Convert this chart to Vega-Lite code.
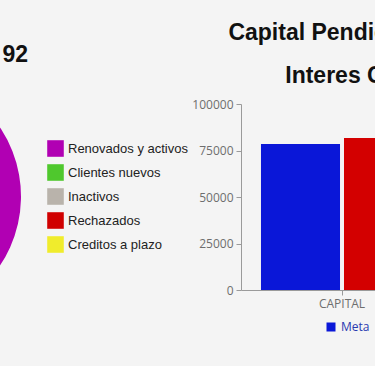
{
  "$schema": "https://vega.github.io/schema/vega-lite/v6.json",
  "background": "#f4f4f4",
  "padding": {"left": -227, "top": 22, "right": 0, "bottom": 40},
  "bounds": "flush",
  "spacing": 220,
  "resolve": {"scale": {"color": "independent"}, "legend": {"color": "independent"}},
  "config": {
    "view": {"stroke": null},
    "legend": {"layout": {"right": {"anchor": "middle"}, "bottom": {"anchor": "middle"}}}
  },
  "hconcat": [
    {
      "width": 248,
      "height": 185,
      "title": {"text": "Total de clientes: 92", "font": "Liberation Sans", "fontSize": 23, "fontWeight": "bold", "color": "#111111", "anchor": "end", "frame": "group", "offset": 6, "dx": 7},
      "data": {"values": [
        {"estado": "Renovados y activos", "clientes": 70},
        {"estado": "Clientes nuevos", "clientes": 12},
        {"estado": "Inactivos", "clientes": 6},
        {"estado": "Rechazados", "clientes": 3},
        {"estado": "Creditos a plazo", "clientes": 1}
      ]},
      "mark": {"type": "arc", "outerRadius": 124},
      "encoding": {
        "theta": {"field": "clientes", "type": "quantitative", "stack": true},
        "order": {"field": "clientes", "type": "quantitative", "sort": "descending"},
        "color": {
          "field": "estado", "type": "nominal",
          "scale": {"domain": ["Renovados y activos", "Clientes nuevos", "Inactivos", "Rechazados", "Creditos a plazo"], "range": ["#b100b3", "#4fc82d", "#b9b3ab", "#d00000", "#f0ec2c"]},
          "legend": {"title": null, "orient": "right", "symbolType": "square", "symbolSize": 275, "symbolStrokeWidth": 0, "labelFont": "Liberation Sans", "labelFontSize": 13, "labelColor": "#222222", "rowPadding": 7, "offset": 26, "labelOffset": 4}
        }
      }
    },
    {
      "width": 394,
      "height": 186,
      "title": {"text": ["Capital Pendiente vs Capital Esperado", "Interes Cobrado vs Previsto"], "font": "Liberation Sans", "fontSize": 23, "fontWeight": "bold", "color": "#111111", "anchor": "middle", "frame": "group", "lineHeight": 43, "offset": 10},
      "data": {"values": [
        {"concepto": "CAPITAL", "serie": "Meta", "monto": 78500},
        {"concepto": "CAPITAL", "serie": "Real", "monto": 81700},
        {"concepto": "INTERES", "serie": "Meta", "monto": 12500},
        {"concepto": "INTERES", "serie": "Real", "monto": 11800}
      ]},
      "mark": {"type": "bar"},
      "encoding": {
        "x": {"field": "concepto", "type": "nominal", "title": null,
          "scale": {"paddingInner": 0.053, "paddingOuter": 0.0526},
          "axis": {"labelAngle": 0, "labelFont": "Open Sans", "labelFontSize": 12, "labelColor": "#6e6e6e", "domainColor": "#9a9a9a", "tickColor": "#9a9a9a", "tickSize": 5, "labelPadding": 3}},
        "xOffset": {"field": "serie", "type": "nominal", "scale": {"paddingInner": 0.048, "paddingOuter": 0.119}},
        "y": {"field": "monto", "type": "quantitative", "title": null,
          "scale": {"domain": [0, 100000]},
          "axis": {"values": [0, 25000, 50000, 75000, 100000], "format": "d", "grid": false, "labelFont": "Open Sans", "labelFontSize": 12, "labelColor": "#6e6e6e", "domainColor": "#9a9a9a", "tickColor": "#9a9a9a", "tickSize": 5, "labelPadding": 3}},
        "color": {"field": "serie", "type": "nominal",
          "scale": {"domain": ["Meta", "Real"], "range": ["#0a17d8", "#d30000"]},
          "legend": {"orient": "bottom", "direction": "horizontal", "title": null, "symbolType": "square", "symbolSize": 81, "symbolStrokeWidth": 0, "labelFont": "Open Sans", "labelFontSize": 12, "labelColor": "#2a3ab0", "offset": 12, "columnPadding": 142}}
      }
    }
  ]
}
